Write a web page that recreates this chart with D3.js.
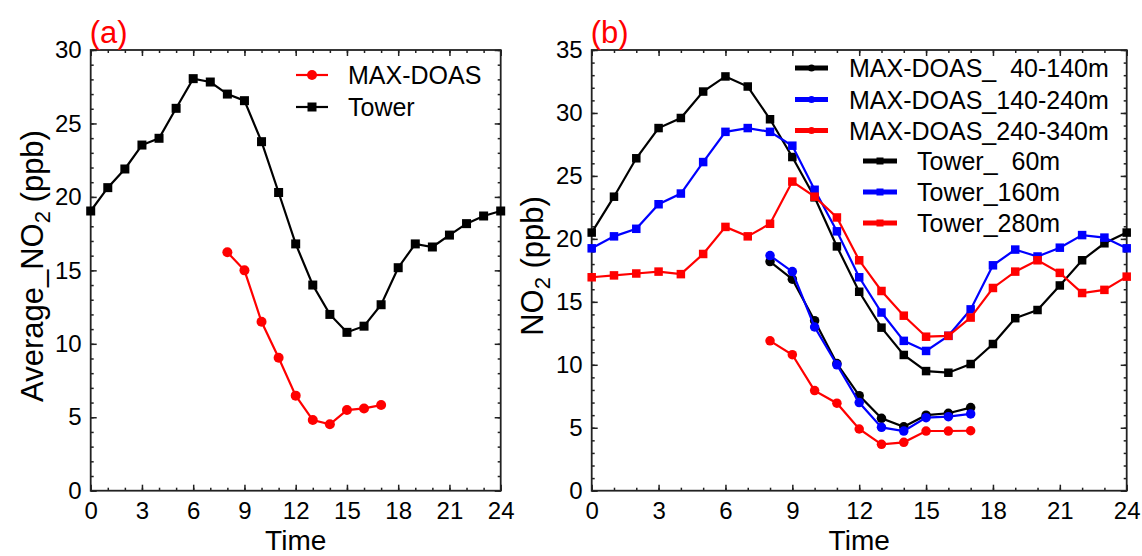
<!DOCTYPE html>
<html>
<head>
<meta charset="utf-8">
<script src="https://cdn.jsdelivr.net/npm/d3@7"></script>
<style>
    body { margin: 0; background: #fff; }
    svg { display: block; font-family: Arial, "Liberation Sans", sans-serif; }
    text { white-space: pre; }
</style>
</head>
<body>
<svg id="chart" width="1142" height="556"></svg>
<script>
/**
 * Data.
 */
const hours = [0, 1, 2, 3, 4, 5, 6, 7, 8, 9, 10, 11, 12, 13, 14, 15, 16, 17, 18, 19, 20, 21, 22, 23, 24];
const doasHours = [8, 9, 10, 11, 12, 13, 14, 15, 16, 17];

// Panel (a): averages
const towerAvg = [19.04, 20.63, 21.9, 23.53, 23.99, 26.03, 28.05, 27.82, 27.0, 26.55, 23.76, 20.3, 16.8,
    14.0, 12.0, 10.78, 11.2, 12.66, 15.18, 16.8, 16.59, 17.4, 18.18, 18.7, 19.04];
const doasAvg = [16.23, 15.0, 11.5, 9.05, 6.47, 4.81, 4.52, 5.49, 5.6, 5.83];

// Panel (b): by height
const doas40 = [18.2, 16.8, 13.5, 10.1, 7.55, 5.75, 5.08, 6.0, 6.15, 6.6];
const doas140 = [18.67, 17.4, 13.0, 10.0, 7.0, 5.03, 4.74, 5.8, 5.88, 6.1];
const doas240 = [11.9, 10.8, 7.95, 6.95, 4.9, 3.68, 3.84, 4.74, 4.74, 4.76];
const tower60 = [20.5, 23.35, 26.4, 28.8, 29.6, 31.7, 32.9, 32.1, 29.5, 26.5, 23.3, 19.4, 15.8,
    12.95, 10.78, 9.5, 9.37, 10.06, 11.65, 13.7, 14.35, 16.3, 18.3, 19.65, 20.5];
const tower160 = [19.25, 20.2, 20.8, 22.75, 23.6, 26.1, 28.5, 28.8, 28.5, 27.4, 23.9, 20.6, 16.95,
    14.15, 11.9, 11.1, 12.3, 14.4, 17.9, 19.15, 18.6, 19.3, 20.3, 20.1, 19.25];
const tower280 = [16.95, 17.1, 17.25, 17.4, 17.2, 18.8, 20.95, 20.2, 21.2, 24.55, 23.35, 21.7, 18.3,
    15.86, 13.9, 12.23, 12.3, 13.75, 16.1, 17.4, 18.3, 17.3, 15.7, 15.95, 17.0];

// Tick labels
const xTicks = [0, 3, 6, 9, 12, 15, 18, 21, 24];
const yTicksA = [0, 5, 10, 15, 20, 25, 30];
const yTicksB = [0, 5, 10, 15, 20, 25, 30, 35];

/**
 * Series definitions.
 */
const seriesA = [
    { name: 'MAX-DOAS', x: doasHours, y: doasAvg, color: '#ff0000', shape: 'circle' },
    { name: 'Tower', x: hours, y: towerAvg, color: '#000000', shape: 'square' }
];
const seriesB = [
    { name: 'MAX-DOAS_  40-140m', x: doasHours, y: doas40, color: '#000000', shape: 'circle' },
    { name: 'MAX-DOAS_140-240m', x: doasHours, y: doas140, color: '#0000ff', shape: 'circle' },
    { name: 'MAX-DOAS_240-340m', x: doasHours, y: doas240, color: '#ff0000', shape: 'circle' },
    { name: 'Tower_  60m', x: hours, y: tower60, color: '#000000', shape: 'square' },
    { name: 'Tower_160m', x: hours, y: tower160, color: '#0000ff', shape: 'square' },
    { name: 'Tower_280m', x: hours, y: tower280, color: '#ff0000', shape: 'square' }
];

/**
 * Visual configs.
 */
const frameColor = '#222',
    tickFont = 24,
    titleFont = 28,
    legendFont = 25;

const svg = d3.select('#chart');

function drawMarker(g, shape, cx, cy, size, color) {
    if (shape === 'circle') {
        g.append('circle').attr('cx', cx).attr('cy', cy).attr('r', size / 2).attr('fill', color);
    } else {
        g.append('rect').attr('x', cx - size / 2).attr('y', cy - size / 2)
            .attr('width', size).attr('height', size).attr('fill', color);
    }
}

/**
 * Draws one panel.
 */
function drawPanel(cfg) {
    const x = d3.scaleLinear().domain([0, 24]).range([cfg.left, cfg.right]),
        y = d3.scaleLinear().domain([0, cfg.yMax]).range([cfg.bottom, cfg.top]);

    const g = svg.append('g');

    // Minor & major ticks on all four sides (inward)
    const addAxis = (axis, transform, labels) => {
        const a = g.append('g').attr('transform', transform).call(axis);
        a.select('.domain').remove();
        a.selectAll('line').attr('stroke', frameColor).attr('stroke-width', 1.5);
        a.selectAll('text').attr('fill', '#000').style('font-size', tickFont + 'px')
            .style('font-family', 'Arial, "Liberation Sans", sans-serif');
        if (!labels) a.selectAll('text').remove();
    };
    const minorX = d3.range(0, 25), minorY = d3.range(0, cfg.yMax + 1);

    addAxis(d3.axisBottom(x).tickValues(minorX).tickSize(-3).tickFormat(''), `translate(0,${cfg.bottom})`, false);
    addAxis(d3.axisBottom(x).tickValues(xTicks).tickSize(-6).tickPadding(11).tickFormat(d3.format('d')),
        `translate(0,${cfg.bottom})`, true);
    addAxis(d3.axisTop(x).tickValues(minorX).tickSize(-3).tickFormat(''), `translate(0,${cfg.top})`, false);
    addAxis(d3.axisTop(x).tickValues(xTicks).tickSize(-6).tickFormat(''), `translate(0,${cfg.top})`, false);
    addAxis(d3.axisLeft(y).tickValues(minorY).tickSize(-3).tickFormat(''), `translate(${cfg.left},0)`, false);
    addAxis(d3.axisLeft(y).tickValues(cfg.yTicks).tickSize(-6).tickPadding(9).tickFormat(d3.format('d')),
        `translate(${cfg.left},0)`, true);
    addAxis(d3.axisRight(y).tickValues(minorY).tickSize(-3).tickFormat(''), `translate(${cfg.right},0)`, false);
    addAxis(d3.axisRight(y).tickValues(cfg.yTicks).tickSize(-6).tickFormat(''), `translate(${cfg.right},0)`, false);

    // Frame
    g.append('rect')
        .attr('x', cfg.left).attr('y', cfg.top)
        .attr('width', cfg.right - cfg.left).attr('height', cfg.bottom - cfg.top)
        .attr('fill', 'none').attr('stroke', frameColor).attr('stroke-width', 1.8);

    // Series
    const line = d3.line().x(d => x(d[0])).y(d => y(d[1]));
    cfg.series.forEach(s => {
        const pts = s.x.map((h, i) => [h, s.y[i]]);
        const sg = g.append('g');
        sg.append('path').attr('d', line(pts))
            .attr('fill', 'none').attr('stroke', s.color).attr('stroke-width', 2.2);
        pts.forEach(p => drawMarker(sg, s.shape, x(p[0]), y(p[1]),
            s.shape === 'circle' ? cfg.circleSize : cfg.squareSize, s.color));
    });

    // Panel label
    g.append('text').attr('x', cfg.left - 1).attr('y', 43)
        .attr('fill', '#ff0000').style('font-size', '31px').text(cfg.label);

    // Axis titles
    g.append('text').attr('x', (cfg.left + cfg.right) / 2).attr('y', 550)
        .attr('text-anchor', 'middle').style('font-size', titleFont + 'px').text('Time');

    const yt = g.append('text')
        .attr('transform', `translate(${cfg.yTitleX},266) rotate(-90)`)
        .attr('text-anchor', 'middle').style('font-size', '31px');
    yt.append('tspan').text(cfg.yTitle);
    yt.append('tspan').attr('dy', 7).style('font-size', '22px').text('2');
    yt.append('tspan').attr('dy', -7).text(' (ppb)');

    // Legend
    cfg.series.forEach((s, i) => {
        const L = cfg.legend[i];
        const lg = g.append('g');
        lg.append('line').attr('x1', L.x0).attr('x2', L.x1).attr('y1', L.y).attr('y2', L.y)
            .attr('stroke', s.color).attr('stroke-width', cfg.legendStroke);
        drawMarker(lg, s.shape, (L.x0 + L.x1) / 2, L.y,
            s.shape === 'circle' ? cfg.legendCircle : cfg.legendSquare, s.color);
        lg.append('text').attr('x', L.tx).attr('y', L.y).attr('dy', '0.36em')
            .style('font-size', legendFont + 'px').text(s.name);
    });
}

drawPanel({
    left: 90.7, right: 500.7, top: 50, bottom: 490.7,
    yMax: 30, yTicks: yTicksA,
    series: seriesA,
    circleSize: 10, squareSize: 9,
    label: '(a)',
    yTitle: 'Average_NO', yTitleX: 43,
    legendStroke: 2.2, legendCircle: 10, legendSquare: 9,
    legend: [
        { x0: 296, x1: 328, tx: 348, y: 75 },
        { x0: 296, x1: 328, tx: 348, y: 107 }
    ]
});

drawPanel({
    left: 591.7, right: 1126.7, top: 50, bottom: 490.7,
    yMax: 35, yTicks: yTicksB,
    series: seriesB,
    circleSize: 9.5, squareSize: 8.5,
    label: '(b)',
    yTitle: 'NO', yTitleX: 543,
    legendStroke: 5, legendCircle: 7, legendSquare: 7,
    legend: [
        { x0: 795, x1: 828, tx: 849, y: 68 },
        { x0: 795, x1: 828, tx: 849, y: 99.5 },
        { x0: 795, x1: 828, tx: 849, y: 130.5 },
        { x0: 863, x1: 897, tx: 917, y: 161 },
        { x0: 863, x1: 897, tx: 917, y: 192 },
        { x0: 863, x1: 897, tx: 917, y: 223 }
    ]
});
</script>
</body>
</html>
